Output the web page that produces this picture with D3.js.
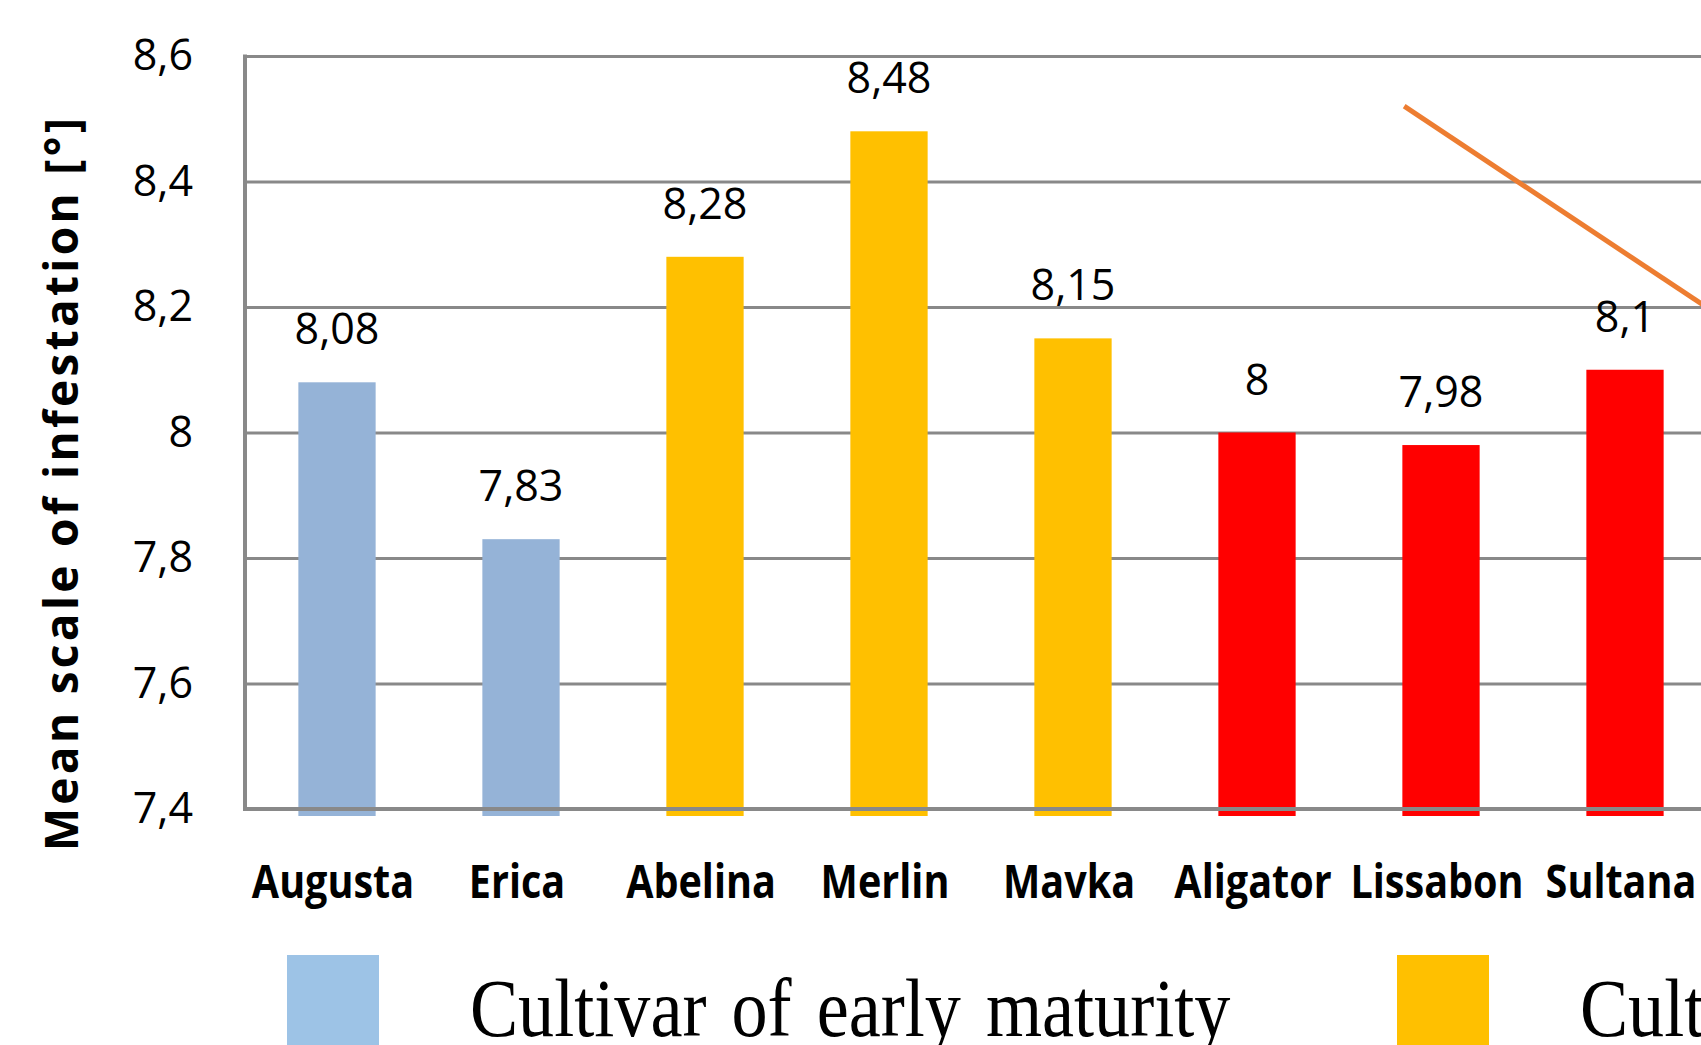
<!DOCTYPE html>
<html>
<head>
<meta charset="utf-8">
<script src="https://cdn.jsdelivr.net/npm/d3@7"></script>
<style>
  body { margin: 0; background: #fff; overflow: hidden; }
</style>
</head>
<body>
<div id="chart"></div>
<script>
let svgWidth = 1701;
let svgHeight = 1045;

// data
let cultivars = ["Augusta", "Erica", "Abelina", "Merlin", "Mavka", "Aligator", "Lissabon", "Sultana"];
let infestation = [8.08, 7.83, 8.28, 8.48, 8.15, 8.0, 7.98, 8.1];
let labels = ["8,08", "7,83", "8,28", "8,48", "8,15", "8", "7,98", "8,1"];
let groups = ["early", "early", "midearly", "midearly", "midearly", "medium", "medium", "medium"];
let yTicks = [7.4, 7.6, 7.8, 8.0, 8.2, 8.4, 8.6];
let yTickLabels = ["7,4", "7,6", "7,8", "8", "8,2", "8,4", "8,6"];
let legendNames = ["Cultivar of early maturity", "Cultivar of medium early maturity"];
// orange line (category index, value)
let lineIdx = [6.3, 8.3];
let lineVal = [8.52, 8.13];

let colors = { early: "#95b3d7", midearly: "#ffc000", medium: "#ff0000" };
let legendColors = ["#9dc3e6", "#ffc000"];

let margin = { top: 56, left: 245 };
let step = 184;
let plotBottom = 809;

let svg = d3.select("#chart")
  .append("svg")
  .attr("width", svgWidth)
  .attr("height", svgHeight);

let x = d3.scaleBand()
  .domain(cultivars)
  .range([margin.left, margin.left + step * cultivars.length])
  .paddingInner(0.58)
  .paddingOuter(0.29);

let xIdx = d3.scaleLinear()
  .domain([0, cultivars.length])
  .range([margin.left, margin.left + step * cultivars.length]);

let y = d3.scaleLinear()
  .domain([7.4, 8.6])
  .range([plotBottom, margin.top]);

// gridlines + tick labels
let yAxis = d3.axisLeft(y)
  .tickValues(yTicks)
  .tickSize(-(svgWidth - margin.left + 20))
  .tickPadding(52)
  .tickFormat((d, i) => yTickLabels[i]);

let gy = svg.append("g")
  .attr("transform", `translate(${margin.left}, 0)`)
  .call(yAxis);
gy.select(".domain").remove();
gy.selectAll(".tick line")
  .attr("stroke", "#898989")
  .attr("stroke-width", 3);
gy.selectAll(".tick text")
  .attr("font-family", "Open Sans")
  .attr("font-size", 43)
  .attr("fill", "#000");

// left border
svg.append("line")
  .attr("x1", margin.left).attr("x2", margin.left)
  .attr("y1", margin.top - 1.5).attr("y2", plotBottom + 2)
  .attr("stroke", "#898989")
  .attr("stroke-width", 4);

// bars
svg.selectAll(".bar")
  .data(cultivars)
  .enter()
  .append("rect")
  .attr("class", "bar")
  .attr("x", d => x(d))
  .attr("y", (d, i) => y(infestation[i]))
  .attr("width", x.bandwidth())
  .attr("height", (d, i) => y(7.4) - y(infestation[i]) + 7)
  .attr("fill", (d, i) => colors[groups[i]]);

// axis line over bars
svg.append("line")
  .attr("x1", margin.left).attr("x2", svgWidth + 10)
  .attr("y1", y(7.4)).attr("y2", y(7.4))
  .attr("stroke", "#898989")
  .attr("stroke-width", 4);

// value labels
svg.selectAll(".val")
  .data(cultivars)
  .enter()
  .append("text")
  .attr("class", "val")
  .attr("x", d => x(d) + x.bandwidth() / 2)
  .attr("y", (d, i) => y(infestation[i]) - 38)
  .attr("text-anchor", "middle")
  .attr("font-family", "Open Sans")
  .attr("font-size", 43)
  .text((d, i) => labels[i]);

// category labels
svg.selectAll(".cat")
  .data(cultivars)
  .enter()
  .append("g")
  .attr("transform", d => `translate(${x(d) + x.bandwidth() / 2 - 4}, 898) scale(0.86, 1)`)
  .append("text")
  .attr("text-anchor", "middle")
  .attr("font-family", "Open Sans")
  .attr("font-weight", "bold")
  .attr("font-size", 46)
  .text(d => d);

// orange line
let line = d3.line()
  .x(d => xIdx(d[0]))
  .y(d => y(d[1]));
svg.append("path")
  .datum(lineIdx.map((d, i) => [d, lineVal[i]]))
  .attr("d", line)
  .attr("fill", "none")
  .attr("stroke", "#ed7d31")
  .attr("stroke-width", 5);

// y title
svg.append("text")
  .attr("transform", "translate(78, 483) rotate(-90)")
  .attr("text-anchor", "middle")
  .attr("font-family", "Open Sans")
  .attr("font-weight", "bold")
  .attr("font-size", 46)
  .attr("letter-spacing", 3.3)
  .text("Mean scale of infestation [°]");

// legend
let legendX = [287, 1397];
legendNames.forEach(function(name, i) {
  svg.append("rect")
    .attr("x", legendX[i])
    .attr("y", 955)
    .attr("width", 92)
    .attr("height", 100)
    .attr("fill", legendColors[i]);
  svg.append("g")
    .attr("transform", `translate(${legendX[i] + 183}, 1036) scale(0.88, 1)`)
    .append("text")
    .attr("font-family", "Liberation Serif")
    .attr("font-size", 82)
    .attr("word-spacing", 8)
    .text(name);
});
</script>
</body>
</html>
